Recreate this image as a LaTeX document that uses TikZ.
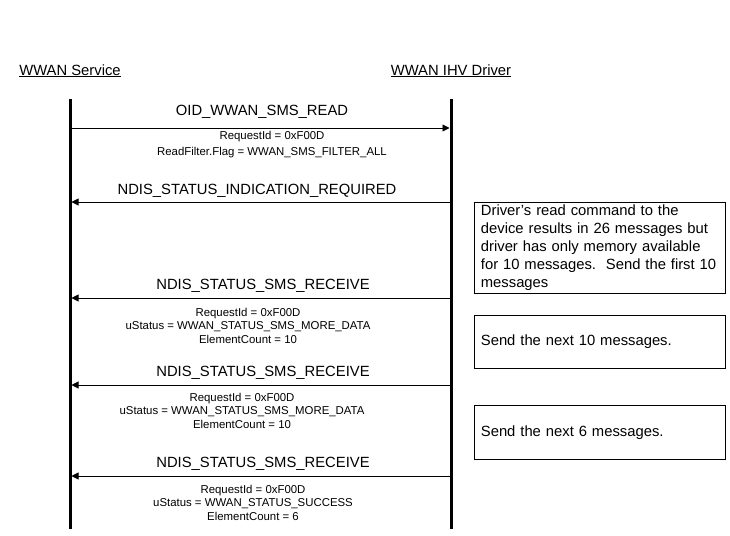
\documentclass[tikz,border=0pt]{standalone}
\usepackage{fontspec}
\setmainfont{Liberation Sans}
\usetikzlibrary{arrows.meta}
\tikzset{
 actor/.style={anchor=base,inner sep=0pt,font=\fontsize{14.8}{18}\selectfont},
 lifeline/.style={line width=3pt},
 msg/.style={-{Triangle[length=7pt,width=7pt]},line width=0.9pt,shorten >=1.5pt},
 msgname/.style={anchor=base,inner sep=0pt,font=\fontsize{14.8}{18}\selectfont},
 params/.style={anchor=north,inner sep=0pt,align=center,font=\fontsize{11.4}{13.5}\selectfont},
 note/.style={draw,line width=0.8pt,anchor=north west,minimum width=251pt,text width=238pt,
   inner xsep=6.5pt,inner ysep=0pt,align=left,font=\fontsize{14.8}{18}\selectfont}
}
\begin{document}
\begin{tikzpicture}[x=1pt,y=-1pt]
 \useasboundingbox (0,0) rectangle (730,535);
 % actors and lifelines
 \node[actor] (svc) at (70,75) {\underline{WWAN Service}};
 \node[actor] (drv) at (451,75) {\underline{WWAN IHV Driver}};
 \coordinate (svcTop) at (70,99);  \coordinate (svcEnd) at (70,529);
 \coordinate (drvTop) at (451,99); \coordinate (drvEnd) at (451,529);
 \foreach \y/\n in {128/a,202/b,298/c,385/d,476/e} {
   \coordinate (svc\n) at (70,\y);
   \coordinate (drv\n) at (451,\y);
 }
 % messages
 \draw[msg] (svca) -- (drva);
 \foreach \n in {b,c,d,e}
 \draw[msg] (drv\n) -- (svc\n);
 \draw[lifeline] (svcTop) -- (svcEnd);
 \draw[lifeline] (drvTop) -- (drvEnd);
 \node[msgname] (oid) at (262,115) {OID\_WWAN\_SMS\_READ};
 \node[params,font=\fontsize{11.4}{16}\selectfont] (oidArgs) at (272,131)
   {RequestId = 0xF00D\\ReadFilter.Flag = WWAN\_SMS\_FILTER\_ALL};
 \node[msgname] (ind) at (257,194) {NDIS\_STATUS\_INDICATION\_REQUIRED};
 \node[msgname] (recvA) at (263,289) {NDIS\_STATUS\_SMS\_RECEIVE};
 \node[params] (recvAArgs) at (248,308)
   {RequestId = 0xF00D\\uStatus = WWAN\_STATUS\_SMS\_MORE\_DATA\\ElementCount = 10};
 \node[msgname] (recvB) at (263,376) {NDIS\_STATUS\_SMS\_RECEIVE};
 \node[params] (recvBArgs) at (242,393)
   {RequestId = 0xF00D\\uStatus = WWAN\_STATUS\_SMS\_MORE\_DATA\\ElementCount = 10};
 \node[msgname] (recvC) at (263,467) {NDIS\_STATUS\_SMS\_RECEIVE};
 \node[params] (recvCArgs) at (253,485)
   {RequestId = 0xF00D\\uStatus = WWAN\_STATUS\_SUCCESS\\ElementCount = 6};
 % notes
 \node[note,minimum height=91pt] (noteA) at (474,202)
   {Driver's read command to the\\device results in 26 messages but\\driver has only memory available\\for 10 messages.\ \ Send the first 10\\messages};
 \node[note,minimum height=53pt] (noteB) at (474,315) {Send the next 10 messages.};
 \node[note,minimum height=54pt] (noteC) at (474,405) {Send the next 6 messages.};
\end{tikzpicture}
\end{document}
